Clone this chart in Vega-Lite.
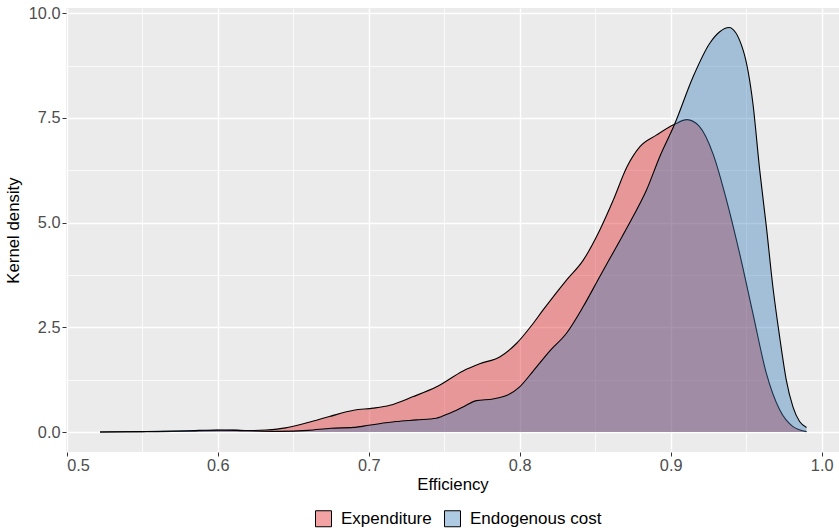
{
  "$schema": "https://vega.github.io/schema/vega-lite/v6.json",
  "width": 773,
  "height": 444,
  "autosize": {"type": "none"},
  "padding": {"left": 66, "top": 8, "right": 0, "bottom": 79},
  "background": "white",
  "config": {
    "view": {"fill": "#EBEBEB", "stroke": null},
    "font": "Liberation Sans",
    "axis": {
      "labelFont": "Liberation Sans",
      "labelFontSize": 16.3,
      "labelColor": "#4D4D4D",
      "tickColor": "#333333",
      "tickSize": 4,
      "tickWidth": 1,
      "domain": false,
      "titleFont": "Liberation Sans",
      "titleFontSize": 16.8,
      "titleFontWeight": "normal",
      "titleColor": "black",
      "gridColor": "white"
    },
    "legend": {
      "labelFont": "Liberation Sans",
      "labelFontSize": 17,
      "labelColor": "black"
    }
  },
  "data": {
    "values": [
      {"group": "Expenditure", "efficiency": 0.522, "density": 0},
      {"group": "Expenditure", "efficiency": 0.54, "density": 0.005},
      {"group": "Expenditure", "efficiency": 0.56, "density": 0.01},
      {"group": "Expenditure", "efficiency": 0.58, "density": 0.02},
      {"group": "Expenditure", "efficiency": 0.6, "density": 0.04},
      {"group": "Expenditure", "efficiency": 0.61, "density": 0.045},
      {"group": "Expenditure", "efficiency": 0.62, "density": 0.035},
      {"group": "Expenditure", "efficiency": 0.632, "density": 0.05},
      {"group": "Expenditure", "efficiency": 0.645, "density": 0.1},
      {"group": "Expenditure", "efficiency": 0.656, "density": 0.19},
      {"group": "Expenditure", "efficiency": 0.667, "density": 0.3},
      {"group": "Expenditure", "efficiency": 0.674, "density": 0.37},
      {"group": "Expenditure", "efficiency": 0.69, "density": 0.52},
      {"group": "Expenditure", "efficiency": 0.703, "density": 0.57},
      {"group": "Expenditure", "efficiency": 0.714, "density": 0.64},
      {"group": "Expenditure", "efficiency": 0.729, "density": 0.84},
      {"group": "Expenditure", "efficiency": 0.745, "density": 1.08},
      {"group": "Expenditure", "efficiency": 0.7625, "density": 1.46},
      {"group": "Expenditure", "efficiency": 0.7735, "density": 1.63},
      {"group": "Expenditure", "efficiency": 0.787, "density": 1.8},
      {"group": "Expenditure", "efficiency": 0.798, "density": 2.12},
      {"group": "Expenditure", "efficiency": 0.808, "density": 2.55},
      {"group": "Expenditure", "efficiency": 0.8154, "density": 2.91},
      {"group": "Expenditure", "efficiency": 0.831, "density": 3.63},
      {"group": "Expenditure", "efficiency": 0.842, "density": 4.1},
      {"group": "Expenditure", "efficiency": 0.853, "density": 4.82},
      {"group": "Expenditure", "efficiency": 0.862, "density": 5.54},
      {"group": "Expenditure", "efficiency": 0.871, "density": 6.33},
      {"group": "Expenditure", "efficiency": 0.8795, "density": 6.81},
      {"group": "Expenditure", "efficiency": 0.8905, "density": 7.09},
      {"group": "Expenditure", "efficiency": 0.9026, "density": 7.35},
      {"group": "Expenditure", "efficiency": 0.9108, "density": 7.46},
      {"group": "Expenditure", "efficiency": 0.919, "density": 7.3},
      {"group": "Expenditure", "efficiency": 0.928, "density": 6.65},
      {"group": "Expenditure", "efficiency": 0.937, "density": 5.54},
      {"group": "Expenditure", "efficiency": 0.9457, "density": 4.26},
      {"group": "Expenditure", "efficiency": 0.9545, "density": 2.83},
      {"group": "Expenditure", "efficiency": 0.9634, "density": 1.4},
      {"group": "Expenditure", "efficiency": 0.9722, "density": 0.53},
      {"group": "Expenditure", "efficiency": 0.981, "density": 0.13},
      {"group": "Expenditure", "efficiency": 0.99, "density": 0.01},
      {"group": "Endogenous cost", "efficiency": 0.522, "density": 0},
      {"group": "Endogenous cost", "efficiency": 0.55, "density": 0.01},
      {"group": "Endogenous cost", "efficiency": 0.58, "density": 0.03},
      {"group": "Endogenous cost", "efficiency": 0.6, "density": 0.05},
      {"group": "Endogenous cost", "efficiency": 0.62, "density": 0.03},
      {"group": "Endogenous cost", "efficiency": 0.64, "density": 0.015},
      {"group": "Endogenous cost", "efficiency": 0.66, "density": 0.04},
      {"group": "Endogenous cost", "efficiency": 0.675, "density": 0.09},
      {"group": "Endogenous cost", "efficiency": 0.69, "density": 0.11},
      {"group": "Endogenous cost", "efficiency": 0.7, "density": 0.16},
      {"group": "Endogenous cost", "efficiency": 0.718, "density": 0.25},
      {"group": "Endogenous cost", "efficiency": 0.7316, "density": 0.29},
      {"group": "Endogenous cost", "efficiency": 0.7448, "density": 0.33},
      {"group": "Endogenous cost", "efficiency": 0.7536, "density": 0.45},
      {"group": "Endogenous cost", "efficiency": 0.7625, "density": 0.6},
      {"group": "Endogenous cost", "efficiency": 0.7713, "density": 0.75},
      {"group": "Endogenous cost", "efficiency": 0.7823, "density": 0.79},
      {"group": "Endogenous cost", "efficiency": 0.7912, "density": 0.87},
      {"group": "Endogenous cost", "efficiency": 0.8, "density": 1.08},
      {"group": "Endogenous cost", "efficiency": 0.8088, "density": 1.45},
      {"group": "Endogenous cost", "efficiency": 0.82, "density": 1.94},
      {"group": "Endogenous cost", "efficiency": 0.831, "density": 2.36},
      {"group": "Endogenous cost", "efficiency": 0.842, "density": 2.99},
      {"group": "Endogenous cost", "efficiency": 0.853, "density": 3.71},
      {"group": "Endogenous cost", "efficiency": 0.864, "density": 4.42},
      {"group": "Endogenous cost", "efficiency": 0.875, "density": 5.14},
      {"group": "Endogenous cost", "efficiency": 0.884, "density": 5.78},
      {"group": "Endogenous cost", "efficiency": 0.8927, "density": 6.57},
      {"group": "Endogenous cost", "efficiency": 0.9026, "density": 7.35},
      {"group": "Endogenous cost", "efficiency": 0.9148, "density": 8.48},
      {"group": "Endogenous cost", "efficiency": 0.9258, "density": 9.28},
      {"group": "Endogenous cost", "efficiency": 0.9325, "density": 9.56},
      {"group": "Endogenous cost", "efficiency": 0.9386, "density": 9.66},
      {"group": "Endogenous cost", "efficiency": 0.948, "density": 9.12},
      {"group": "Endogenous cost", "efficiency": 0.9545, "density": 7.84},
      {"group": "Endogenous cost", "efficiency": 0.959, "density": 6.25},
      {"group": "Endogenous cost", "efficiency": 0.9634, "density": 4.9},
      {"group": "Endogenous cost", "efficiency": 0.9677, "density": 3.47},
      {"group": "Endogenous cost", "efficiency": 0.9722, "density": 2.27},
      {"group": "Endogenous cost", "efficiency": 0.9766, "density": 1.24},
      {"group": "Endogenous cost", "efficiency": 0.981, "density": 0.6},
      {"group": "Endogenous cost", "efficiency": 0.9854, "density": 0.25},
      {"group": "Endogenous cost", "efficiency": 0.99, "density": 0.11}
    ]
  },
  "resolve": {"axis": {"x": "independent", "y": "independent"}},
  "layer": [
    {
      "transform": [{"filter": "datum.group === 'Expenditure'"}],
      "mark": {"type": "area", "interpolate": "monotone", "fillOpacity": 0.4, "strokeWidth": 0},
      "encoding": {
        "x": {
          "field": "efficiency", "type": "quantitative",
          "scale": {"domain": [0.4995, 1.0115], "nice": false, "zero": false},
          "axis": {"values": [0.5, 0.6, 0.7, 0.8, 0.9, 1.0], "format": ".1f", "title": "Efficiency", "grid": true, "gridWidth": 1.4, "labelPadding": 1, "titlePadding": 3, "orient": "bottom"}
        },
        "y": {
          "field": "density", "type": "quantitative",
          "scale": {"domain": [-0.477, 10.127], "nice": false, "zero": false},
          "axis": {"values": [0, 2.5, 5, 7.5, 10], "format": ".1f", "title": "Kernel density", "grid": true, "gridWidth": 1.4, "labelPadding": 2, "titlePadding": 6, "orient": "left"}
        },
        "color": {
          "field": "group", "type": "nominal",
          "scale": {"domain": ["Expenditure", "Endogenous cost"], "range": ["#E41A1C", "#377EB8"]},
          "legend": {
            "title": null, "orient": "none", "direction": "horizontal",
            "legendX": 249, "legendY": 502, "padding": 0,
            "symbolType": "square", "symbolSize": 256, "labelOffset": 9, "columnPadding": 10,
            "symbolStrokeColor": "black", "symbolStrokeWidth": 1,
            "encode": {"symbols": {"update": {"fillOpacity": {"value": 0.4}, "stroke": {"value": "black"}, "strokeWidth": {"value": 1}, "opacity": {"value": 1}}}}
          }
        }
      }
    },
    {
      "transform": [{"filter": "datum.group === 'Expenditure'"}],
      "mark": {"type": "line", "interpolate": "monotone", "color": "black", "strokeWidth": 1.1},
      "encoding": {
        "x": {
          "field": "efficiency", "type": "quantitative",
          "axis": {"orient": "top", "values": [0.55, 0.65, 0.75, 0.85, 0.95], "grid": true, "gridWidth": 0.75, "labels": false, "ticks": false, "domain": false, "title": null}
        },
        "y": {
          "field": "density", "type": "quantitative",
          "axis": {"orient": "right", "values": [1.25, 3.75, 6.25, 8.75], "grid": true, "gridWidth": 0.75, "labels": false, "ticks": false, "domain": false, "title": null}
        }
      }
    },
    {
      "transform": [{"filter": "datum.group === 'Endogenous cost'"}],
      "mark": {"type": "area", "interpolate": "monotone", "fillOpacity": 0.4, "strokeWidth": 0},
      "encoding": {
        "x": {"field": "efficiency", "type": "quantitative", "axis": null},
        "y": {"field": "density", "type": "quantitative", "axis": null},
        "color": {"field": "group", "type": "nominal"}
      }
    },
    {
      "transform": [{"filter": "datum.group === 'Endogenous cost'"}],
      "mark": {"type": "line", "interpolate": "monotone", "color": "black", "strokeWidth": 1.1},
      "encoding": {
        "x": {"field": "efficiency", "type": "quantitative", "axis": null},
        "y": {"field": "density", "type": "quantitative", "axis": null}
      }
    }
  ]
}
